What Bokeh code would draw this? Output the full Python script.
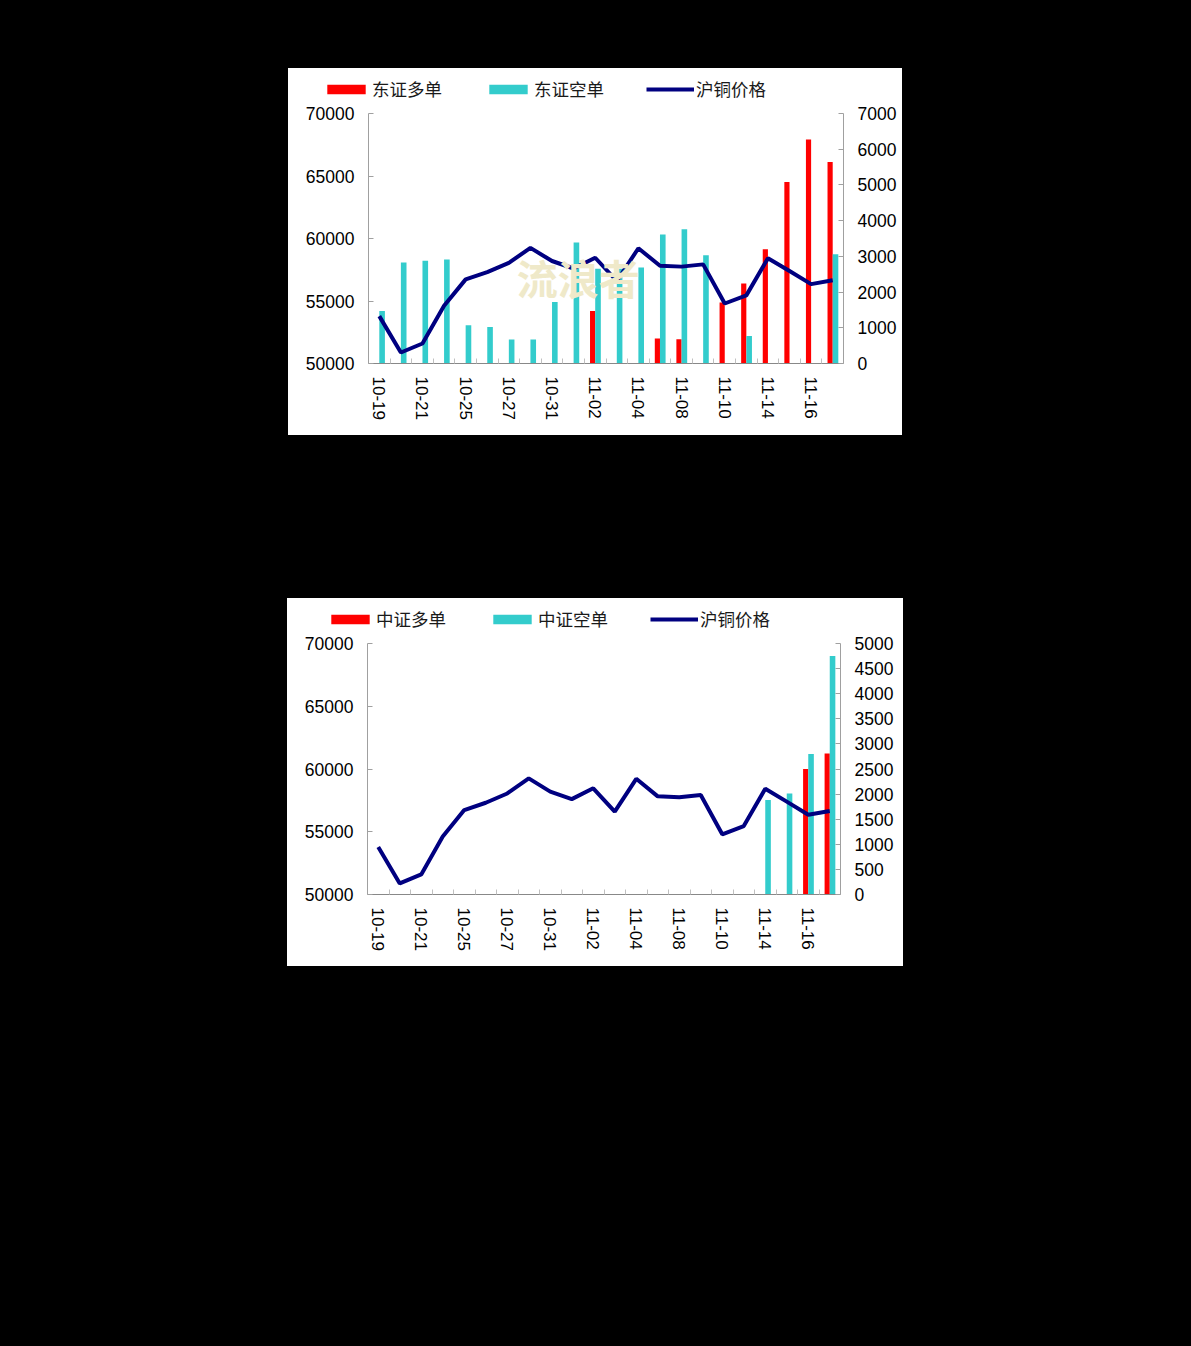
from bokeh.plotting import figure
from bokeh.models import (Range1d, LinearAxis, FixedTicker, Legend, LegendItem, Label,
                          Spacer, ColumnDataSource, GlobalInlineStyleSheet)
from bokeh.layouts import column, row
from bokeh.embed import file_html
from bokeh.resources import INLINE

# ---------------- data ----------------
dates = ["10-19", "10-20", "10-21", "10-24", "10-25", "10-26", "10-27", "10-28",
         "10-31", "11-01", "11-02", "11-03", "11-04", "11-07", "11-08", "11-09",
         "11-10", "11-11", "11-14", "11-15", "11-16", "11-17"]
shown_dates = ["10-19", "10-21", "10-25", "10-27", "10-31", "11-02", "11-04",
               "11-08", "11-10", "11-14", "11-16"]

price = [53790, 50880, 51600, 54620, 56730, 57310, 58050, 59250, 58200, 57600, 58460,
         56600, 59220, 57820, 57750, 57930, 54800, 55450, 58420, 57400, 56350, 56660]

dz_long = [0, 0, 0, 0, 0, 0, 0, 0, 0, 0, 1470, 0, 0, 700, 680, 0, 1710, 2240, 3200,
           5085, 6270, 5645]
dz_short = [1470, 2830, 2880, 2910, 1070, 1025, 670, 670, 1720, 3390, 2650, 2650, 2690,
            3610, 3760, 3030, 0, 770, 0, 0, 0, 3060]

zz_long = [0, 0, 0, 0, 0, 0, 0, 0, 0, 0, 0, 0, 0, 0, 0, 0, 0, 0, 0, 0, 2500, 2810]
zz_short = [0, 0, 0, 0, 0, 0, 0, 0, 0, 0, 0, 0, 0, 0, 0, 0, 0, 0, 1880, 2010, 2800, 4750]

price_ticks = [50000, 55000, 60000, 65000, 70000]
vol_ticks_1 = [0, 1000, 2000, 3000, 4000, 5000, 6000, 7000]
vol_ticks_2 = [0, 500, 1000, 1500, 2000, 2500, 3000, 3500, 4000, 4500, 5000]

labels_1 = ["东证多单", "东证空单", "沪铜价格"]
labels_2 = ["中证多单", "中证空单", "沪铜价格"]

RED = "#FF0000"
CYAN = "#33CCCC"
NAVY = "#000080"
AX = "#a0a0a0"
TICK_FONT = "Liberation Sans"
CJK = "Noto Sans CJK SC"


def legend_strip(labels, width, loc):
    lf = figure(width=width, height=33, x_range=Range1d(0, 1), y_range=Range1d(0, 1),
                output_backend="svg", toolbar_location=None,
                x_axis_location=None, y_axis_location=None,
                min_border=0, min_border_left=0, min_border_right=0,
                min_border_top=0, min_border_bottom=0, frame_align=False,
                background_fill_color="white", border_fill_color="white",
                outline_line_color=None)
    lf.grid.visible = False
    # swatch renderers only (their single placeholder row lies outside the view)
    swatch = ColumnDataSource(dict(x=[-5.0], top=[-5.0]))
    g1 = lf.vbar(x="x", top="top", width=0.1, source=swatch, fill_color=RED,
                 line_color=None)
    g2 = lf.vbar(x="x", top="top", width=0.1, source=swatch, fill_color=CYAN,
                 line_color=None)
    g3 = lf.line(x="x", y="top", source=swatch, line_color=NAVY, line_width=4)
    legend = Legend(items=[LegendItem(label=labels[0], renderers=[g1]),
                           LegendItem(label=labels[1], renderers=[g2]),
                           LegendItem(label=labels[2], renderers=[g3])],
                    orientation="horizontal", location=loc,
                    glyph_width=48, glyph_height=12, label_standoff=2, spacing=42,
                    padding=0, margin=0, background_fill_alpha=0,
                    border_line_color=None, label_text_font=CJK,
                    label_text_font_size="17.5px", label_text_color="#1a1a1a",
                    label_height=20)
    lf.add_layout(legend)
    return lf


def build(long_v, short_v, vol_ticks, width, height, mb, watermark):
    n = len(dates)
    centers = [i + 0.5 for i in range(n)]
    src = ColumnDataSource(dict(
        xl=[c - 0.12 for c in centers],
        xs=[c + 0.13 for c in centers],
        xc=centers,
        long=long_v, short=short_v, price=price))

    p = figure(width=width, height=height, x_range=Range1d(0, n),
               y_range=Range1d(price_ticks[0], price_ticks[-1]),
               output_backend="svg", toolbar_location=None,
               min_border_left=mb[0], min_border_right=mb[1],
               min_border_top=mb[2], min_border_bottom=mb[3], frame_align=False,
               background_fill_color="white", border_fill_color="white",
               outline_line_color=None)
    p.grid.visible = False
    p.extra_y_ranges = {"vol": Range1d(vol_ticks[0], vol_ticks[-1])}

    p.vbar(x="xl", top="long", bottom=0, width=0.24, source=src,
           y_range_name="vol", fill_color=RED, line_color=None)
    p.vbar(x="xs", top="short", bottom=0, width=0.26, source=src,
           y_range_name="vol", fill_color=CYAN, line_color=None)
    p.line(x="xc", y="price", source=src, line_color=NAVY, line_width=4)

    ly = p.yaxis[0]
    ly.ticker = FixedTicker(ticks=price_ticks)
    ry = LinearAxis(y_range_name="vol", ticker=FixedTicker(ticks=vol_ticks))
    p.add_layout(ry, "right")
    for ax in (ly, ry):
        ax.major_tick_in = 5
        ax.major_tick_out = 0
        ax.minor_tick_in = 0
        ax.minor_tick_out = 0
        ax.axis_line_color = AX
        ax.major_tick_line_color = AX
        ax.major_label_text_font = TICK_FONT
        ax.major_label_text_font_size = "17.5px"
        ax.major_label_text_color = "black"
        ax.major_label_standoff = 14

    bx = p.xaxis[0]
    label_pos = [centers[dates.index(d)] for d in shown_dates]
    bx.ticker = FixedTicker(ticks=label_pos, minor_ticks=list(range(n + 1)))
    bx.major_label_overrides = {pos: d for pos, d in zip(label_pos, shown_dates)}
    bx.major_tick_in = 0
    bx.major_tick_out = 0
    bx.minor_tick_in = 5
    bx.minor_tick_out = 0
    bx.minor_tick_line_color = "#c0c0c0"
    bx.axis_line_color = "#888888"
    bx.major_label_orientation = "vertical"
    bx.major_label_text_font = TICK_FONT
    bx.major_label_text_font_size = "17px"
    bx.major_label_text_color = "black"
    bx.major_label_standoff = 13

    if watermark:
        p.add_layout(Label(x=9.71, y=56900, text="流浪者", text_font=CJK,
                           text_font_style="bold", text_font_size="41px",
                           text_color="#EFE9C9", text_align="center",
                           text_baseline="middle"))
    return p


leg1 = legend_strip(labels_1, 614, (34, 0))
p1 = build(dz_long, dz_short, vol_ticks_1, 614, 334, (80, 59, 12, 72), True)
leg2 = legend_strip(labels_2, 616, (39, 0))
p2 = build(zz_long, zz_short, vol_ticks_2, 616, 335, (80, 63, 12, 72), False)

bg = GlobalInlineStyleSheet(css="body { background-color: #000000; }")
white = {"background-color": "white"}
layout = column(
    Spacer(width=1175, height=68),
    row(Spacer(width=288, height=367), column(leg1, p1, styles=white)),
    Spacer(width=1175, height=163),
    row(Spacer(width=287, height=368), column(leg2, p2, styles=white)),
    Spacer(width=1175, height=300),
    stylesheets=[bg],
)

open("out.html", "w").write(file_html(layout, INLINE))
